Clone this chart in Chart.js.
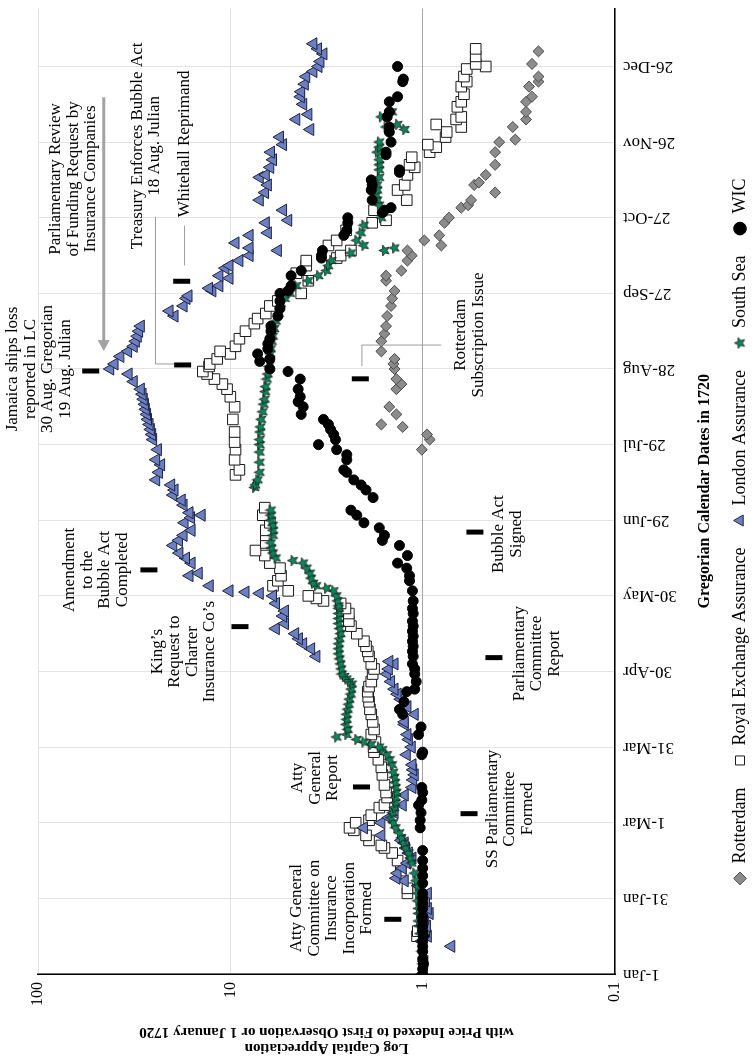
<!DOCTYPE html>
<html>
<head>
<meta charset="utf-8">
<script src="https://cdn.jsdelivr.net/npm/chart.js@4.4.1/dist/chart.umd.min.js"></script>
<style>
  html, body { margin: 0; padding: 0; background: #fff; overflow: hidden; }
  /* chart is drawn landscape, then turned a quarter turn to the left */
  #wrap { position: absolute; left: 0; top: 0; width: 1060px; height: 753px;
          transform-origin: 0 0; transform: translateY(1060px) rotate(-90deg); }
</style>
</head>
<body>
<div id="wrap"><canvas id="chart" width="1060" height="753"></canvas></div>
<script>
// days counted from 1 Jan 1720 (Gregorian)
const tickDays = [0, 30, 60, 90, 120, 150, 180, 210, 240, 270, 300, 330, 360];
const tickLabels = ['1-Jan', '31-Jan', '1-Mar', '31-Mar', '30-Apr', '30-May', '29-Jun',
                    '29-Jul', '28-Aug', '27-Sep', '27-Oct', '26-Nov', '26-Dec'];
const valueTicks = [0.1, 1, 10, 100];
const valueLabels = ['0.1', '1', '10', '100'];

// [day, price index]
const rotterdam = [[208,1.01],[212,0.92],[214,0.95],[217,1.27],[218,1.64],[222,1.37],[225,1.49],[232,1.37],
  [234,1.29],[236,1.37],[240,1.40],[242,1.42],[244,1.40],[247,1.64],[251,1.64],[254,1.58],[257,1.55],[261,1.53],
  [265,1.46],[268,1.44],[271,1.40],[275,1.55],[277,1.55],[279,1.29],[283,1.20],[285,1.14],[287,1.20],[289,0.80],
  [291,0.98],[293,0.82],[298,0.77],[300,0.73],[304,0.63],[305,0.58],[307,0.56],[310,0.42],[313,0.54],[314,0.51],
  [317,0.47],[321,0.42],[326,0.42],[330,0.40],[331,0.33],[336,0.34],[339,0.29],[342,0.29],[346,0.29],[348,0.27],
  [352,0.28],[354,0.25],[356,0.25],[361,0.27],[366,0.25]];

const royalExchange = [[15,1.07],[17,1.06],[32,1.20],[34,1.20],[41,1.30],[45,1.35],[48,1.44],[50,1.58],[51,1.64],
  [53,1.90],[55,1.97],[57,2.28],[58,2.40],[60,2.23],[61,1.90],[63,1.85],[66,1.68],[67,1.58],[70,1.53],[72,1.55],
  [75,1.58],[79,1.62],[82,1.64],[85,1.70],[88,1.79],[90,1.80],[92,1.76],[95,1.85],[97,1.79],[100,1.82],[103,1.85],
  [105,1.88],[108,1.90],[110,1.92],[112,1.93],[114,1.90],[116,1.85],[119,1.82],[121,1.79],[123,1.85],[126,1.90],
  [128,1.93],[130,1.97],[132,2.02],[135,2.20],[138,2.36],[140,2.42],[143,2.42],[145,2.52],[147,2.67],[148,3.28],
  [149,3.57],[150,3.93],[152,5.0],[154,6.0],[156,5.66],[158,5.45],[161,5.52],[163,6.23],[166,6.62],[168,7.4],
  [171,6.54],[174,6.54],[176,6.54],[179,6.23],[182,6.78],[185,6.62],[198,9.4],[200,8.97],[204,9.5],[208,9.4],
  [211,9.5],[215,9.5],[220,9.7],[225,9.5],[229,10.0],[232,10.4],[234,11.0],[236,12.1],[238,13.2],[239,13.9],
  [241,12.9],[242,12.8],[244,11.7],[246,10.0],[247,11.3],[249,9.4],[252,8.97],[255,8.34],[258,7.5],[260,7.21],
  [262,6.54],[265,6.23],[267,5.66],[270,4.28],[275,3.93],[278,4.54],[281,4.03],[283,4.03],[284,2.80],[285,2.67],
  [287,2.36],[289,3.09],[291,2.80],[295,2.5],[298,1.83],[299,1.55],[303,1.79],[307,1.21],[311,1.35],[313,1.24],
  [317,1.20],[320,1.10],[321,1.17],[324,1.14],[326,0.92],[328,0.85],[329,0.94],[332,0.76],[334,0.75],[336,0.63],
  [337,0.85],[339,0.67],[340,0.63],[344,0.66],[346,0.63],[349,0.61],[352,0.63],[354,0.59],[356,0.61],[359,0.59],
  [360,0.47],[361,0.53],[364,0.53],[367,0.53]];

const londonAssurance = [[0,1.0],[5,0.98],[11,0.71],[13,1.01],[15,0.94],[17,0.96],[19,0.95],[22,0.97],[24,0.92],
  [26,0.94],[29,0.96],[32,0.94],[35,1.05],[37,1.24],[38,1.37],[40,1.35],[42,1.27],[44,1.20],[46,1.13],[48,1.18],
  [50,1.22],[52,1.24],[53,1.29],[55,1.64],[58,2.02],[60,1.64],[62,1.50],[64,1.40],[67,1.27],[71,1.24],[74,1.13],
  [77,1.12],[79,1.10],[81,1.12],[83,1.13],[87,1.21],[90,1.14],[93,1.18],[95,1.20],[99,1.24],[100,1.24],[103,1.10],
  [106,1.20],[109,1.30],[111,1.35],[113,1.40],[116,1.46],[119,1.53],[121,1.50],[123,1.40],[124,1.49],[126,3.57],
  [129,3.80],[131,4.18],[133,4.4],[135,4.6],[137,5.8],[139,5.2],[142,5.32],[144,5.2],[147,5.79],[150,6.0],
  [151,7.03],[151.5,8.34],[152,10.1],[154,12.8],[158,16.3],[159,14.6],[163,15.9],[165,17.0],[167,18.4],[170,19.8],
  [172,18.5],[174,17.5],[176,15.9],[179,17.3],[181,16.0],[182,14.1],[183,16.3],[186,17.5],[188,17.9],[190,19.8],
  [192,19.5],[194,20.3],[196,24.3],[199,23.5],[202,22.9],[204,24.3],[208,23.8],[212,25.2],[214,25.5],[216,25.9],
  [218,26.3],[220,26.8],[222,27.1],[224,27.5],[226,27.8],[228,28.2],[230,28.6],[232,29.2],[235,31.8],[238,33.8],
  [240,42.1],[242,40.0],[245,37.3],[247,34.0],[249,31.8],[251,31.0],[253,30.3],[255,29.8],[257,29.2],[261,19.5],
  [263,20.7],[265,17.5],[268,16.9],[269,16.5],[271,12.4],[272,12.9],[273,11.4],[276,10.1],[277,11.4],[280,10.6],
  [281,10.1],[283,8.97],[285,7.94],[287,5.66],[288,7.94],[290,9.4],[293,7.94],[294,6.38],[298,6.54],[299,5.0],
  [303,5.32],[307,7.03],[310,6.6],[313,6.38],[316,7.03],[317,6.54],[320,6.2],[323,6.0],[326,6.15],[329,5.32],
  [332,5.52],[335,3.84],[339,4.54],[341,3.93],[345,4.18],[348,4.3],[350,4.28],[353,4.1],[356,4.03],[358,3.7],
  [360,3.48],[362,3.4],[365,3.28],[367,3.5],[369,3.70]];

const southSea = [[0,1.0],[4,1.0],[9,1.01],[13,1.02],[16,1.03],[19,1.04],[21,1.05],[24,1.05],[26,1.05],[29,1.06],
  [32,1.06],[35,1.07],[37,1.08],[40,1.10],[44,1.14],[46,1.16],[48,1.18],[50,1.22],[52,1.26],[54,1.29],[56,1.32],
  [58,1.38],[60,1.42],[62,1.46],[64,1.43],[66,1.40],[68,1.38],[70,1.38],[72,1.37],[74,1.38],[76,1.39],[78,1.40],
  [80,1.42],[83,1.44],[85,1.48],[87,1.53],[89,1.62],[90,1.68],[91,1.85],[92,2.02],[93,2.20],[94,2.80],[95,2.48],
  [97,2.45],[99,2.50],[101,2.48],[103,2.48],[105,2.45],[107,2.42],[109,2.40],[111,2.36],[113,2.35],[115,2.33],
  [116,2.40],[117,2.48],[118,2.55],[119,2.63],[121,2.65],[123,2.67],[125,2.70],[127,2.73],[129,2.73],[131,2.73],
  [133,2.70],[135,2.67],[137,2.70],[139,2.73],[141,2.73],[143,2.73],[145,2.73],[146,2.73],[148,2.77],[150,2.80],
  [152,2.90],[153,3.16],[154,3.57],[155,3.70],[157,3.80],[159,3.85],[161,4.0],[163,4.18],[164,4.72],[165,5.79],
  [167,6.0],[169,6.1],[171,6.15],[174,6.0],[176,6.0],[178,6.0],[180,6.15],[182,6.15],[184,6.15],[193,7.48],
  [194,7.40],[196,7.2],[199,7.03],[203,7.03],[207,7.03],[210,7.03],[212,7.03],[215,7.0],[217,6.96],[220,6.9],
  [223,6.78],[226,6.7],[228,6.62],[231,6.58],[233,6.54],[236,6.45],[238,6.38],[241,6.3],[244,6.23],[246,6.2],
  [248,6.15],[251,6.08],[253,6.0],[256,5.9],[259,5.79],[262,5.6],[266,5.45],[268,5.2],[270,4.89],[273,4.54],
  [275,3.93],[277,3.48],[279,3.16],[281,3.09],[283,2.97],[286,2.36],[287,1.58],[288,1.40],[289,2.02],[291,2.20],
  [294,2.09],[297,2.02],[300,1.64],[302,1.62],[305,1.68],[307,1.72],[309,1.74],[311,1.72],[313,1.72],[316,1.68],
  [319,1.68],[321,1.68],[323,1.68],[326,1.72],[328,1.68],[330,1.68],[335,1.24],[336,1.55],[337,1.35],[340,1.64],
  [342,1.44]];

const wic = [[0,1.0],[2,1.0],[4,0.99],[6,1.0],[9,1.0],[11,1.0],[13,1.0],[15,0.99],[17,1.0],[19,1.0],[21,1.0],
  [23,1.0],[26,1.0],[28,1.0],[30,1.0],[32,1.0],[36,1.0],[39,1.0],[42,1.0],[45,1.0],[49,1.0],[58,1.03],[61,1.03],
  [64,1.02],[67,1.05],[69,1.01],[72,1.0],[74,1.01],[87,1.01],[88,1.0],[95,1.05],[98,1.02],[103,1.27],[105,1.32],
  [108,1.25],[112,1.21],[113,1.10],[116,1.08],[119,1.10],[121,1.10],[123,1.13],[126,1.12],[128,1.13],[130,1.12],
  [132,1.13],[134,1.12],[136,1.13],[138,1.12],[140,1.13],[143,1.12],[145,1.13],[148,1.12],[152,1.13],[156,1.17],
  [158,1.17],[161,1.21],[163,1.35],[166,1.20],[170,1.32],[172,1.62],[174,1.58],[177,1.68],[179,2.02],[182,2.20],
  [184,2.36],[189,1.81],[192,1.97],[194,2.09],[196,2.28],[199,2.48],[200,2.57],[204,2.48],[206,2.48],[208,2.80],
  [210,3.48],[212,2.84],[214,2.90],[216,3.01],[218,3.09],[220,3.28],[222,4.28],[225,4.18],[227,4.44],[229,4.33],
  [232,4.44],[236,4.33],[239,5.01],[240,6.23],[243,7.03],[244,6.23],[246,7.21],[248,6.38],[250,6.38],[252,6.23],
  [255,6.15],[257,6.15],[261,5.66],[264,5.52],[267,5.52],[270,5.52],[271,5.01],[273,4.83],[277,4.83],[279,4.28],
  [284,3.36],[285,3.36],[287,3.32],[293,2.57],[295,2.48],[298,2.45],[300,2.45],[302,1.62],[303,1.58],[304,1.46],
  [307,1.83],[311,1.85],[313,1.83],[315,1.85],[318,1.32],[319,1.32],[325,1.55],[326,1.55],[330,1.46],[334,1.49],
  [336,1.49],[340,1.53],[342,1.49],[346,1.49],[348,1.35],[354,1.27],[355,1.26],[360,1.35]];

// event markers: [day, index level]
const eventBars = [[21.7,1.43],[74.2,2.08],[63.6,0.574],[137.8,8.91],[125.5,0.426],[160.3,26.5],
  [175.3,0.535],[239.2,53.2],[241.6,17.7],[274.8,17.9],[236.1,2.11]];

const notes = [
  {at: [26.1, 2.96], lines: ['Atty General', 'Committee on', 'Insurance', 'Incorporation', 'Formed']},
  {at: [77.8, 3.61], lines: ['Atty', 'General', 'Report']},
  {at: [65.5, 0.353], lines: ['SS Parliamentary', 'Committee', 'Formed']},
  {at: [127.9, 17.5], lines: ['King\u2019s', 'Request to', 'Charter', 'Insurance Co\u2019s']},
  {at: [127.1, 0.255], lines: ['Parliamentary', 'Committee', 'Report']},
  {at: [160.3, 49.8], lines: ['Amendment', 'to the', 'Bubble Act', 'Completed']},
  {at: [174.5, 0.362], lines: ['Bubble Act', 'Signed']},
  {at: [240, 98.8], lines: ['Jamaica ships loss', 'reported in LC', '30 Aug. Gregorian', '19 Aug. Julian']},
  {at: [315.4, 65.5], lines: ['Parliamentary Review', 'of Funding Request by', 'Insurance Companies']},
  {at: [328.5, 27.5], lines: ['Treasury Enforces Bubble Act', '18 Aug. Julian']},
  {at: [329.3, 17.3], lines: ['Whitehall Reprimand']},
  {at: [253.5, 0.570], lines: ['Rotterdam', 'Subscription Issue']}
];

const connectors = [
  [[300.4, 24.5], [242, 24.5], [242, 19.5]],
  [[296.9, 17.3], [281.1, 17.3]],
  [[249.5, 0.80], [249.5, 2.07], [241.2, 2.07]]
];
const arrow = [[347.8, 45.5], [247.1, 45.5]];

const serif = '"Liberation Serif", "Times New Roman", serif';

function toXY(rows) {
  return rows.map(r => ({x: r[0], y: r[1]}));
}

function makeStar(size, fill, stroke) {
  const c = document.createElement('canvas');
  c.width = c.height = size;
  const g = c.getContext('2d');
  const r = size / 2 - 0.8, ri = r * 0.45, cx = size / 2, cy = size / 2;
  g.beginPath();
  for (let i = 0; i < 10; i++) {
    const a = -Math.PI / 2 + i * Math.PI / 5;
    const rr = i % 2 ? ri : r;
    g.lineTo(cx + rr * Math.cos(a), cy + rr * Math.sin(a));
  }
  g.closePath();
  g.fillStyle = fill;
  g.fill();
  g.strokeStyle = stroke;
  g.lineWidth = 0.8;
  g.stroke();
  return c;
}

const starImg = makeStar(13, '#0a875a', '#1a1a1a');

const notesPlugin = {
  id: 'notes',
  afterDraw(chart) {
    const {ctx} = chart;
    const xs = chart.scales.x, ys = chart.scales.y;
    const px = d => xs.getPixelForValue(d);
    const py = v => ys.getPixelForValue(v);
    ctx.save();

    ctx.strokeStyle = '#9c9c9c';
    ctx.lineWidth = 1;
    connectors.forEach(path => {
      ctx.beginPath();
      path.forEach((p, i) => i ? ctx.lineTo(px(p[0]), py(p[1])) : ctx.moveTo(px(p[0]), py(p[1])));
      ctx.stroke();
    });

    // grey arrow
    const x0 = px(arrow[0][0]), y0 = py(arrow[0][1]);
    const x1 = px(arrow[1][0]), y1 = py(arrow[1][1]);
    ctx.strokeStyle = '#a3a3a3';
    ctx.fillStyle = '#a3a3a3';
    ctx.lineWidth = 3;
    ctx.beginPath();
    ctx.moveTo(x0, y0);
    ctx.lineTo(x1 + 10, y1);
    ctx.stroke();
    ctx.beginPath();
    ctx.moveTo(x1, y1);
    ctx.lineTo(x1 + 11, y1 - 6);
    ctx.lineTo(x1 + 11, y1 + 6);
    ctx.closePath();
    ctx.fill();

    ctx.fillStyle = '#000';
    eventBars.forEach(b => ctx.fillRect(px(b[0]) - 2.5, py(b[1]) - 8.5, 5, 17));

    ctx.font = '17px ' + serif;
    ctx.textAlign = 'center';
    ctx.textBaseline = 'middle';
    notes.forEach(n => {
      const cx = px(n.at[0]), cy = py(n.at[1]);
      n.lines.forEach((t, i) => ctx.fillText(t, cx, cy + (i - (n.lines.length - 1) / 2) * 17.5));
    });
    ctx.restore();
  }
};

new Chart(document.getElementById('chart'), {
  type: 'scatter',
  data: {
    datasets: [
      {label: 'Rotterdam', data: toXY(rotterdam), pointStyle: 'rectRot', pointRadius: 5.5,
       backgroundColor: '#8c8c8c', borderColor: '#4a4a4a', borderWidth: 1, order: 4},
      {label: 'Royal Exchange Assurance', data: toXY(royalExchange), pointStyle: 'rect', pointRadius: 7.5,
       backgroundColor: '#ffffff', borderColor: '#1a1a1a', borderWidth: 1, order: 3},
      {label: 'London Assurance', data: toXY(londonAssurance), pointStyle: 'triangle', pointRadius: 7,
       backgroundColor: '#6d7fbf', borderColor: '#1d2448', borderWidth: 1, order: 2},
      {label: 'South Sea', data: toXY(southSea), pointStyle: starImg,
       backgroundColor: '#0a875a', borderColor: '#1a1a1a', borderWidth: 1, order: 1},
      {label: 'WIC', data: toXY(wic), pointStyle: 'circle', pointRadius: 5,
       backgroundColor: '#000000', borderColor: '#000000', borderWidth: 1, order: 0}
    ]
  },
  options: {
    responsive: false,
    animation: false,
    devicePixelRatio: 1,
    layout: {padding: {top: 38, right: 3, bottom: -6, left: 0}},
    plugins: {
      legend: {
        position: 'bottom',
        labels: {
          usePointStyle: true, boxWidth: 12, boxHeight: 9, padding: 21, color: '#000',
          font: {family: serif, size: 18},
          sort: (a, b) => a.datasetIndex - b.datasetIndex
        }
      },
      tooltip: {enabled: false}
    },
    scales: {
      x: {
        type: 'linear', position: 'bottom', min: 0, max: 383,
        afterBuildTicks: s => { s.ticks = tickDays.map(v => ({value: v})); },
        afterFit: s => { s.height = 95; },
        ticks: {autoSkip: false, minRotation: 90, maxRotation: 90, padding: 8, color: '#000',
                font: {family: serif, size: 17}, callback: (v, i) => tickLabels[i]},
        grid: {color: '#e3e3e3', drawTicks: false},
        border: {color: '#000', width: 1.5},
        title: {display: true, text: 'Gregorian Calendar Dates in 1720', color: '#000',
                font: {family: serif, size: 16, weight: 'bold'}, padding: {top: 0, bottom: -4.6}}
      },
      y: {
        type: 'logarithmic', min: 0.1, max: 100,
        afterBuildTicks: s => { s.ticks = valueTicks.map(v => ({value: v})); },
        afterFit: s => { s.width = 86; },
        ticks: {padding: 8, color: '#000', font: {family: serif, size: 16},
                callback: (v, i) => valueLabels[i]},
        grid: {color: c => (c.tick && c.tick.value === 1) ? '#a6a6a6' : '#e3e3e3', drawTicks: false},
        border: {color: '#000', width: 1.5},
        title: {display: true,
                text: ['Log Capital Appreciation', 'with Price Indexed to First Observation or 1 January 1720'],
                color: '#000', font: {family: serif, size: 15, weight: 'bold', lineHeight: 1.1},
                padding: {top: 3.75, bottom: 0}}
      }
    }
  },
  plugins: [notesPlugin]
});
</script>
</body>
</html>
